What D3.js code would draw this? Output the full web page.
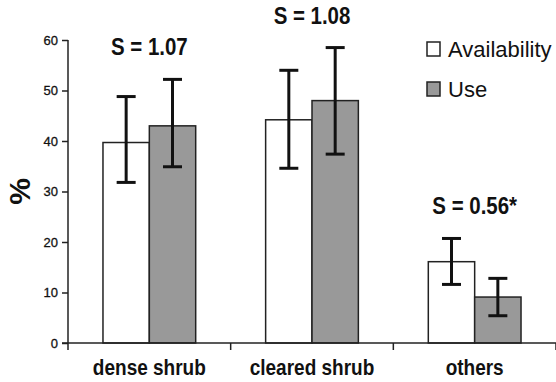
<!DOCTYPE html>
<html>
<head>
<meta charset="utf-8">
<script src="https://cdn.jsdelivr.net/npm/d3@7"></script>
<style>
  body { margin: 0; background: #fff; }
  text { font-family: Arial, "Liberation Sans", sans-serif; fill: #111; }
</style>
</head>
<body>
<svg id="chart"></svg>
<script>
// data
const categories = ['dense shrub', 'cleared shrub', 'others']
const seriesNames = ['Availability', 'Use']
const availability = [39.7, 44.2, 16.1]
const availLow = [31.8, 34.6, 11.6]
const availHigh = [48.8, 54.0, 20.7]
const use = [43.0, 48.0, 9.1]
const useLow = [34.9, 37.4, 5.4]
const useHigh = [52.2, 58.5, 12.8]
const sLabels = ['S = 1.07', 'S = 1.08', 'S = 0.56*']
const yTicks = [0, 10, 20, 30, 40, 50, 60]

const width = 556
const height = 382
const margin = { top: 40, right: 0, bottom: 39, left: 68 }
const innerWidth = width - margin.left - margin.right
const innerHeight = height - margin.top - margin.bottom

const fills = ['#ffffff', '#999999']

const svg = d3.select('#chart')
  .attr('width', width)
  .attr('height', height)

const g = svg.append('g')
  .attr('transform', `translate(${margin.left},${margin.top})`)

const x = d3.scaleBand()
  .domain(categories)
  .range([0, innerWidth])
  .paddingInner(0.43)
  .paddingOuter(0.215)

const xInner = d3.scaleBand()
  .domain(seriesNames)
  .range([0, x.bandwidth()])

const y = d3.scaleLinear()
  .domain([0, 60])
  .range([innerHeight, 0])

const rows = categories.map((c, i) => ({
  cat: c,
  values: [
    { s: 'Availability', v: availability[i], lo: availLow[i], hi: availHigh[i] },
    { s: 'Use', v: use[i], lo: useLow[i], hi: useHigh[i] }
  ],
  label: sLabels[i]
}))

// bars
const groups = g.selectAll('g.cat')
  .data(rows)
  .join('g')
  .attr('class', 'cat')
  .attr('transform', d => `translate(${x(d.cat)},0)`)

groups.selectAll('rect')
  .data(d => d.values)
  .join('rect')
  .attr('x', d => xInner(d.s))
  .attr('y', d => y(d.v))
  .attr('width', xInner.bandwidth())
  .attr('height', d => y(0) - y(d.v))
  .attr('fill', (d, i) => fills[i])
  .attr('stroke', '#222')
  .attr('stroke-width', 1.5)

// error bars
const capW = 19
const err = groups.selectAll('g.err')
  .data(d => d.values)
  .join('g')
  .attr('class', 'err')
  .attr('stroke', '#111')
  .attr('stroke-width', 3)

err.append('line')
  .attr('x1', d => xInner(d.s) + xInner.bandwidth() / 2)
  .attr('x2', d => xInner(d.s) + xInner.bandwidth() / 2)
  .attr('y1', d => y(d.lo))
  .attr('y2', d => y(d.hi))

err.selectAll('line.cap')
  .data(d => [{ s: d.s, v: d.lo }, { s: d.s, v: d.hi }])
  .join('line')
  .attr('class', 'cap')
  .attr('x1', d => xInner(d.s) + xInner.bandwidth() / 2 - capW / 2)
  .attr('x2', d => xInner(d.s) + xInner.bandwidth() / 2 + capW / 2)
  .attr('y1', d => y(d.v))
  .attr('y2', d => y(d.v))

// S labels (slightly condensed like the original)
groups.append('text')
  .attr('transform', d => `translate(${x.bandwidth() / 2},${y(d3.max(d.values, v => v.hi)) - 24}) scale(0.93,1.08)`)
  .attr('text-anchor', 'middle')
  .attr('font-size', 22)
  .attr('font-weight', 'bold')
  .text(d => d.label)

// y axis
const yAxis = g.append('g')
  .call(d3.axisLeft(y).tickValues(yTicks).tickSize(6).tickPadding(4))
yAxis.select('.domain').attr('stroke', '#222').attr('stroke-width', 1.5).attr('d', `M0,${y(60)}V${y(0)}`)
yAxis.selectAll('.tick line').attr('stroke', '#222').attr('stroke-width', 1.5)
yAxis.selectAll('.tick text')
  .attr('font-size', 13)
  .attr('font-family', 'Arial, "Liberation Sans", sans-serif')
  .attr('fill', '#111')
  .attr('stroke', '#111')
  .attr('stroke-width', 0.3)

// x axis
const xAxis = g.append('g')
  .attr('transform', `translate(0,${innerHeight})`)
xAxis.append('line')
  .attr('x1', -6).attr('x2', innerWidth)
  .attr('stroke', '#222').attr('stroke-width', 1.5)

const step = x.step()
const bounds = [0].concat(categories.map(c => x(c) + x.bandwidth() / 2 + step / 2))
xAxis.selectAll('line.sep')
  .data(bounds)
  .join('line')
  .attr('class', 'sep')
  .attr('x1', d => d).attr('x2', d => d)
  .attr('y1', 0).attr('y2', 7)
  .attr('stroke', '#222').attr('stroke-width', 1.5)

xAxis.selectAll('text')
  .data(categories)
  .join('text')
  .attr('transform', d => `translate(${x(d) + x.bandwidth() / 2},32) scale(1,1.15)`)
  .attr('text-anchor', 'middle')
  .attr('font-size', 19)
  .attr('font-weight', 'bold')
  .text(d => d)

// y label
svg.append('text')
  .attr('transform', `translate(30,${margin.top + y(30)}) rotate(-90)`)
  .attr('text-anchor', 'middle')
  .attr('font-size', 30)
  .attr('font-weight', 'bold')
  .text('%')

// legend
const legend = svg.append('g')
  .attr('transform', 'translate(427,42)')
legend.selectAll('g')
  .data(seriesNames)
  .join('g')
  .attr('transform', (d, i) => `translate(0,${i * 40})`)
  .each(function (d, i) {
    const it = d3.select(this)
    it.append('rect')
      .attr('width', 13).attr('height', 14)
      .attr('fill', fills[i]).attr('stroke', '#222').attr('stroke-width', 1.5)
    it.append('text')
      .attr('x', 21).attr('y', 15)
      .attr('font-size', 22)
      .text(d)
  })
</script>
</body>
</html>
